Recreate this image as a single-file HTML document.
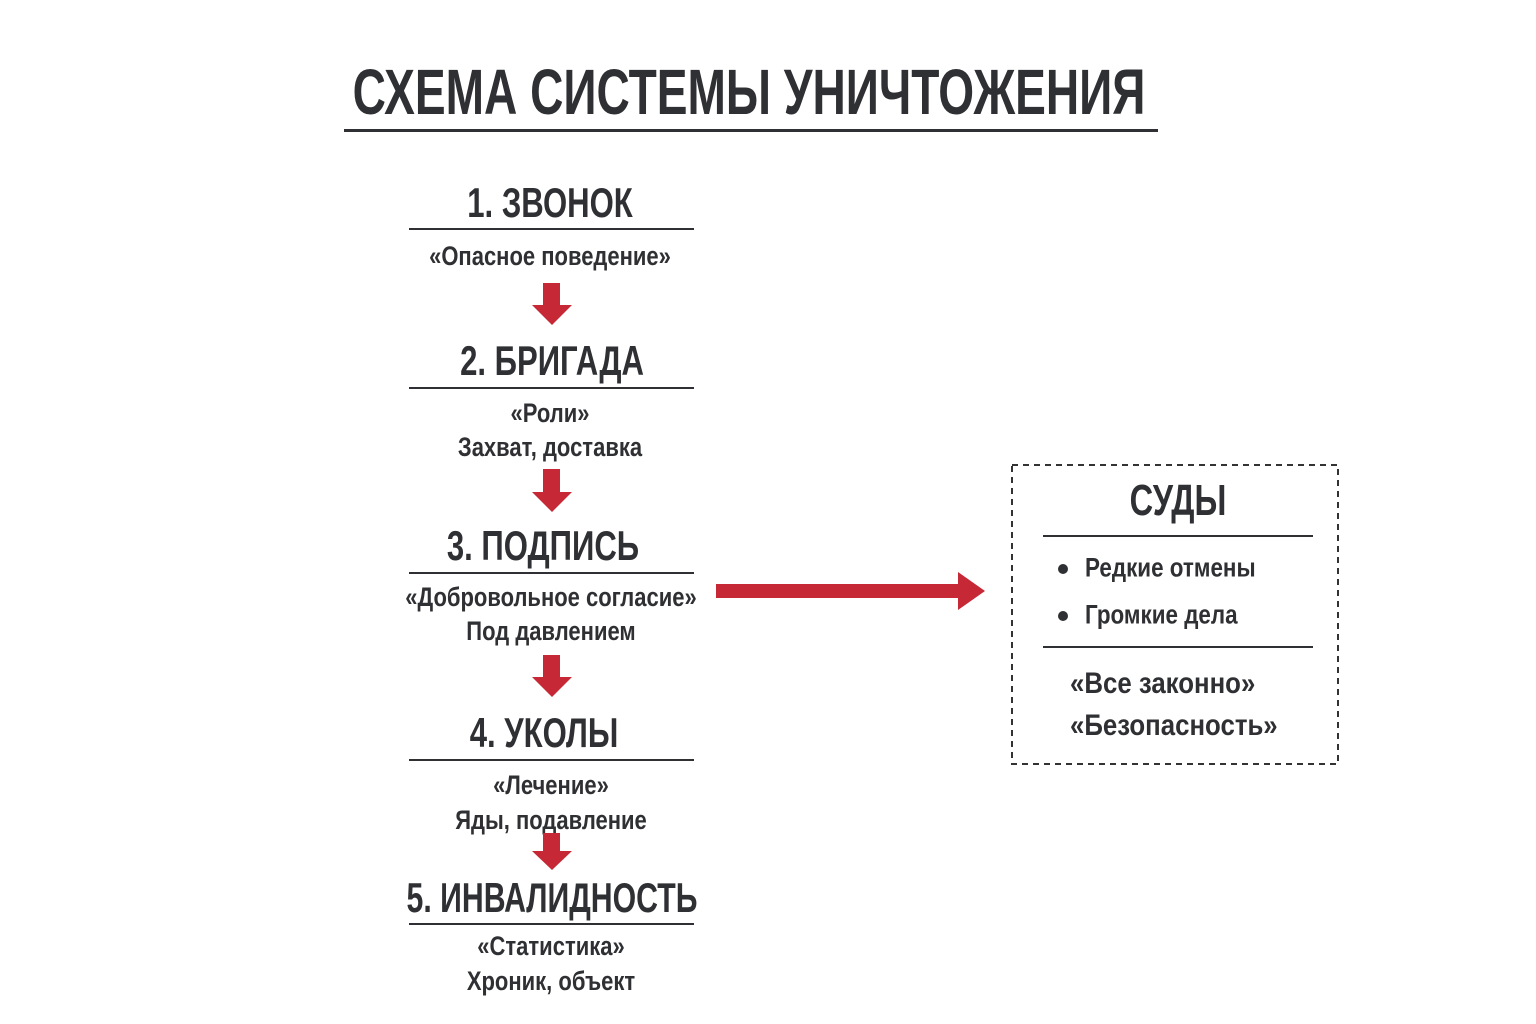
<!DOCTYPE html>
<html><head><meta charset="utf-8"><style>
body{margin:0;width:1536px;height:1024px;background:#fff;position:relative;overflow:hidden;font-family:"Liberation Sans",sans-serif;color:#2f3033}
.t{position:absolute;white-space:nowrap;transform:translate(-50%,-50%) scaleX(0.74);font-weight:bold;line-height:1}
.s{position:absolute;white-space:nowrap;transform:translate(-50%,-50%) scaleX(0.83);font-weight:bold;line-height:1;font-size:26.5px}
.l{position:absolute;white-space:nowrap;transform-origin:left center;transform:translateY(-50%) scaleX(0.83);line-height:1;font-weight:bold}
.h{position:absolute;height:2px;background:#2f3033}
</style></head><body>
<div class="t" style="left:749px;top:92px;font-size:64px;transform:translate(-50%,-50%) scaleX(0.72)">СХЕМА СИСТЕМЫ УНИЧТОЖЕНИЯ</div>
<div class="h" style="left:344px;top:129px;width:814px;height:3px"></div>

<div class="t" style="left:550px;top:203px;font-size:42px">1. ЗВОНОК</div>
<div class="h" style="left:409px;top:228px;width:285px"></div>
<div class="s" style="left:550px;top:256px">«Опасное поведение»</div>

<div class="t" style="left:552px;top:361px;font-size:42px">2. БРИГАДА</div>
<div class="h" style="left:409px;top:387px;width:285px"></div>
<div class="s" style="left:550px;top:413px">«Роли»</div>
<div class="s" style="left:550px;top:447px">Захват, доставка</div>

<div class="t" style="left:543px;top:546px;font-size:42px">3. ПОДПИСЬ</div>
<div class="h" style="left:409px;top:572px;width:285px"></div>
<div class="s" style="left:551px;top:597px">«Добровольное согласие»</div>
<div class="s" style="left:551px;top:631px">Под давлением</div>

<div class="t" style="left:544px;top:733px;font-size:42px">4. УКОЛЫ</div>
<div class="h" style="left:409px;top:759px;width:285px"></div>
<div class="s" style="left:551px;top:785px">«Лечение»</div>
<div class="s" style="left:551px;top:820px">Яды, подавление</div>

<div class="t" style="left:552px;top:898px;font-size:42px;transform:translate(-50%,-50%) scaleX(0.72)">5. ИНВАЛИДНОСТЬ</div>
<div class="h" style="left:409px;top:923px;width:285px"></div>
<div class="s" style="left:551px;top:946px">«Статистика»</div>
<div class="s" style="left:551px;top:981px">Хроник, объект</div>

<svg width="1536" height="1024" style="position:absolute;left:0;top:0">
<g fill="#c62836">
<polygon points="543,283 560,283 560,305 572,305 552,325 532,305 543,305"/>
<polygon points="543,469 560,469 560,492 572,492 552,512 532,492 543,492"/>
<polygon points="543,655 560,655 560,677 572,677 552,697 532,677 543,677"/>
<polygon points="543,833 560,833 560,851 572,851 552,870 532,851 543,851"/>
<polygon points="716,584 958,584 958,572 985,591 958,610 958,598 716,598"/>
</g>
<rect x="1012" y="465" width="326" height="299" fill="none" stroke="#333" stroke-width="2" stroke-dasharray="6,5"/>
<circle cx="1063" cy="569" r="5" fill="#2f3033"/>
<circle cx="1063" cy="616" r="5" fill="#2f3033"/>
</svg>
<div class="t" style="left:1178px;top:501px;font-size:44px">СУДЫ</div>
<div class="h" style="left:1043px;top:535px;width:270px"></div>
<div class="l" style="left:1085px;top:568px;font-size:27px">Редкие отмены</div>
<div class="l" style="left:1085px;top:615px;font-size:27px">Громкие дела</div>
<div class="h" style="left:1043px;top:646px;width:270px"></div>
<div class="l" style="left:1070px;top:684px;font-size:30px;transform:translateY(-50%) scaleX(0.86)">«Все законно»</div>
<div class="l" style="left:1070px;top:726px;font-size:30px;transform:translateY(-50%) scaleX(0.86)">«Безопасность»</div>
</body></html>
